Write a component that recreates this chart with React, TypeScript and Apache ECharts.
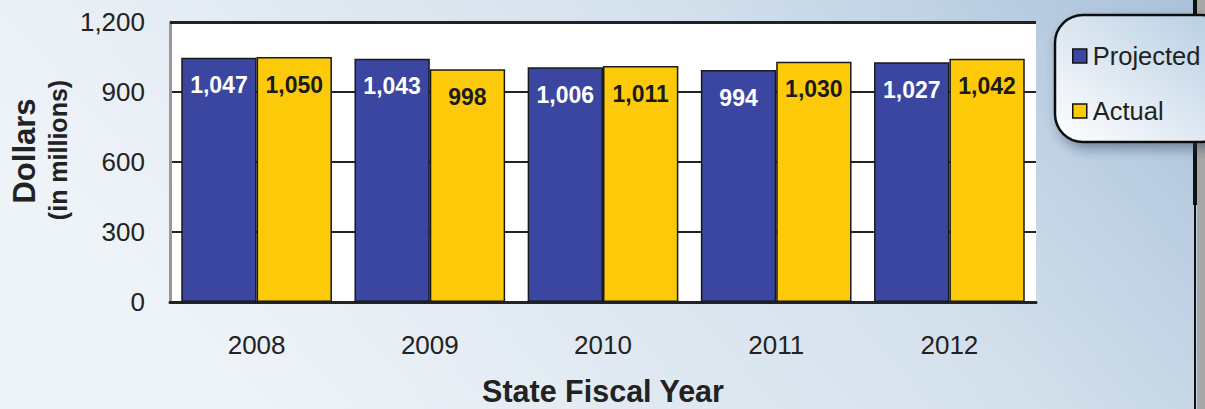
import React, { useEffect, useRef } from "react";
import * as echarts from "echarts";

const years = ["2008", "2009", "2010", "2011", "2012"];
const projected = [1047, 1043, 1006, 994, 1027];
const actual = [1050, 998, 1011, 1030, 1042];
const yTicks = [0, 300, 600, 900, 1200];

const FONT = "Liberation Sans, Arial, sans-serif";

export default function App() {
  const ref = useRef<HTMLDivElement>(null);
  useEffect(() => {
    document.body.style.margin = "0";
    const chart = echarts.init(ref.current!, null, { renderer: "svg" });
    const fmt = (v: number) => v.toLocaleString("en-US");
    chart.setOption({
      animation: false,
      backgroundColor: new echarts.graphic.LinearGradient(0, 0.3, 1, 0, [
        { offset: 0, color: "#eef3f8" },
        { offset: 0.6, color: "#d3e0ec" },
        { offset: 1, color: "#a9c1da" },
      ]),
      textStyle: { fontFamily: FONT },
      grid: {
        left: 170,
        right: 169,
        top: 22,
        bottom: 107,
        show: true,
        backgroundColor: "#ffffff",
        borderColor: "#222",
        borderWidth: 0,
        containLabel: false,
        outerBoundsMode: "none",
      },
      legend: {
        show: true,
        orient: "vertical",
        left: 1067,
        top: 38,
        itemGap: 29,
        itemWidth: 14,
        itemHeight: 14,
        icon: "rect",
        z: 20,
        itemStyle: { borderColor: "#111", borderWidth: 1.5 },
        textStyle: { fontSize: 25.5, color: "#222", fontFamily: FONT, padding: [0, 0, 0, 1] },
        data: ["Projected", "Actual"],
      },
      xAxis: {
        type: "category",
        data: years,
        axisTick: { show: false },
        axisLine: { lineStyle: { color: "#222", width: 3 } },
        axisLabel: { fontSize: 26, color: "#222", margin: 30 },
        name: "State Fiscal Year",
        nameLocation: "middle",
        nameGap: 74,
        nameTextStyle: { fontSize: 30.5, fontWeight: "bold", color: "#222", fontFamily: FONT, lineHeight: 30 },
      },
      yAxis: {
        type: "value",
        min: 0,
        max: 1200,
        interval: 300,
        axisLine: { show: true, lineStyle: { color: "#999", width: 3 } },
        axisTick: { show: false },
        axisLabel: {
          fontSize: 26,
          color: "#222",
          margin: 25,
          formatter: (v: number) => (yTicks.includes(v) ? fmt(v) : ""),
        },
        splitLine: { show: true, lineStyle: { color: "#222", width: 2 } },
      },
      series: [
        {
          name: "Projected",
          type: "bar",
          data: projected,
          barGap: "0%",
          barCategoryGap: "13%",
          itemStyle: { color: "#3a46a0", borderColor: "#1a1a1a", borderWidth: 1.5 },
          label: {
            show: true,
            position: "insideTop",
            distance: 16,
            formatter: (p: any) => fmt(p.value),
            fontSize: 23,
            fontWeight: "bold",
            color: "#ffffff",
            fontFamily: FONT,
          },
        },
        {
          name: "Actual",
          type: "bar",
          data: actual,
          itemStyle: { color: "#fdca0a", borderColor: "#1a1a1a", borderWidth: 1.5 },
          label: {
            show: true,
            position: "insideTop",
            distance: 16,
            formatter: (p: any) => fmt(p.value),
            fontSize: 23,
            fontWeight: "bold",
            color: "#1a1a1a",
            fontFamily: FONT,
          },
        },
      ],
      graphic: [
        { type: "rect", z: 1, shape: { x: 1197, y: 0, width: 8, height: 409 }, style: { fill: "#a8a8a8" } },
        { type: "rect", z: 1, shape: { x: 1193, y: 0, width: 4, height: 205 }, style: { fill: "#111" } },
        { type: "rect", z: 1, shape: { x: 1194, y: 205, width: 2, height: 204 }, style: { fill: "#111" } },
        {
          type: "rect",
          z: 5,
          shape: { x: 1055, y: 15, width: 175, height: 127, r: 28 },
          style: {
            fill: new echarts.graphic.LinearGradient(0, 1, 1, 0, [
              { offset: 0, color: "#ffffff" },
              { offset: 1, color: "#b5cce2" },
            ]),
            stroke: "#111",
            lineWidth: 2.5,
            shadowBlur: 12,
            shadowOffsetX: 4,
            shadowOffsetY: 6,
            shadowColor: "rgba(40,50,80,0.45)",
          },
        },
        // top border of plot area
        { type: "rect", z: 3, shape: { x: 170, y: 21, width: 866, height: 3 }, style: { fill: "#222" } },
        {
          type: "text",
          z: 5,
          x: 24,
          y: 151,
          rotation: Math.PI / 2,
          style: {
            text: "Dollars",
            fontSize: 31,
            fontWeight: "bold",
            fill: "#222",
            align: "center",
            verticalAlign: "middle",
            fontFamily: FONT,
          },
        },
        {
          type: "text",
          z: 5,
          x: 58,
          y: 150,
          rotation: Math.PI / 2,
          style: {
            text: "(in millions)",
            fontSize: 25,
            fontWeight: "bold",
            fill: "#222",
            align: "center",
            verticalAlign: "middle",
            fontFamily: FONT,
          },
        },
      ],
    });
    return () => chart.dispose();
  }, []);
  return <div ref={ref} style={{ width: 1205, height: 409 }} />;
}
